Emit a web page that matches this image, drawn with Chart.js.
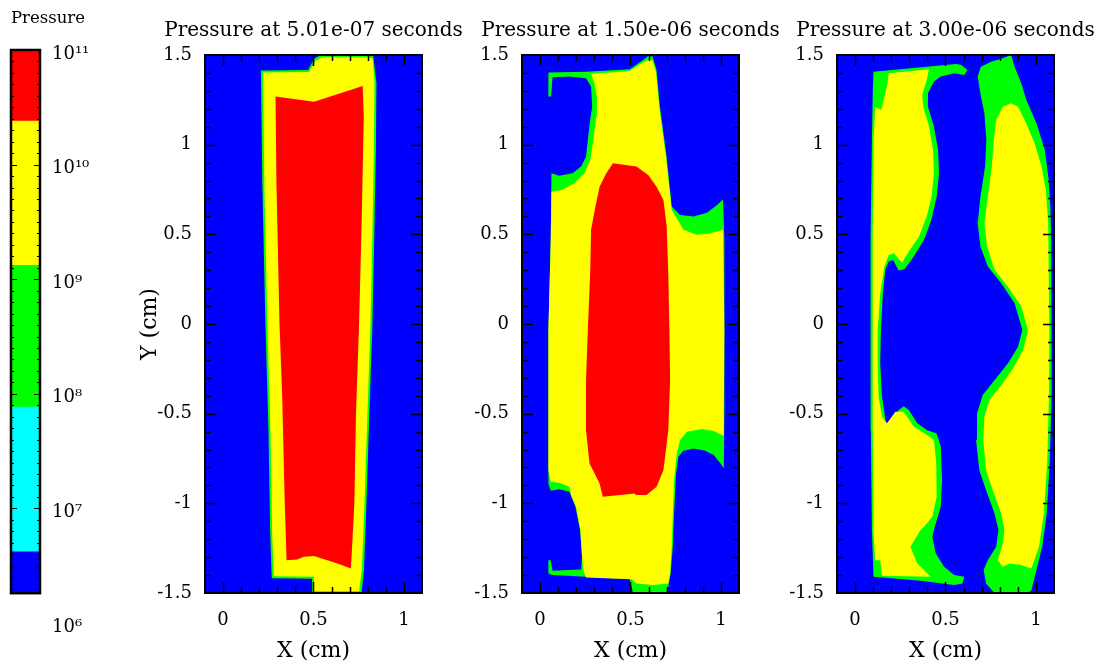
<!DOCTYPE html>
<html><head><meta charset="utf-8">
<script src="https://cdn.jsdelivr.net/npm/chart.js@4/dist/chart.umd.min.js"></script>
<style>
html,body{margin:0;padding:0;background:#fff;overflow:hidden;width:1096px;height:666px;position:relative}
canvas{position:absolute;top:0}
</style></head><body>
<canvas id="cb" width="100" height="666" style="left:0px"></canvas>
<canvas id="p1" width="397" height="666" style="left:115px"></canvas>
<canvas id="p2" width="397" height="666" style="left:432px"></canvas>
<canvas id="p3" width="397" height="666" style="left:747px"></canvas>
<script>
// ---------- data ----------
const TITLES = ['Pressure at 5.01e-07 seconds', 'Pressure at 1.50e-06 seconds', 'Pressure at 3.00e-06 seconds'];
const X_TICKS = [0, 0.5, 1];
const Y_TICKS = [-1.5, -1, -0.5, 0, 0.5, 1, 1.5];
const X_RANGE = [-0.1, 1.1];
const Y_RANGE = [-1.5, 1.5];

// colour bar: band edges as log10(pressure)
const CB_EDGES = [6.26, 6.62, 7.885, 9.12, 10.38, 11];
const CB_COLORS = ['#0000ff', '#00ffff', '#00ff00', '#ffff00', '#ff0000'];
const CB_TICKS = [6, 7, 8, 9, 10, 11];
const CB_LABELS = ['10\u2076', '10\u2077', '10\u2078', '10\u2079', '10\u00b9\u2070', '10\u00b9\u00b9'];

const BLUE = '#0000ff', GREEN = '#00ff00', YELLOW = '#ffff00', RED = '#ff0000';

// contour regions (x cm, y cm)
const P1_GREEN = [[0.209,1.414],[0.470,1.416],[0.505,1.482],[0.545,1.5],[0.83,1.5],[0.848,1.342],[0.845,0.97],[0.836,0.487],[0.826,0],[0.809,-0.5],[0.793,-1.0],[0.779,-1.372],[0.766,-1.5],[0.496,-1.5],[0.492,-1.42],[0.269,-1.418],[0.260,-1.149],[0.251,-0.592],[0.234,0],[0.217,0.785]];
const P1_YELLOW = [[0.221,1.402],[0.475,1.405],[0.512,1.468],[0.549,1.488],[0.80,1.488],[0.828,1.48],[0.837,1.342],[0.834,0.97],[0.825,0.487],[0.815,0],[0.798,-0.5],[0.782,-1.0],[0.767,-1.372],[0.752,-1.49],[0.507,-1.49],[0.503,-1.409],[0.280,-1.406],[0.271,-1.149],[0.262,-0.592],[0.245,0],[0.228,0.785]];
const P1_RED = [[0.290,1.268],[0.503,1.240],[0.772,1.327],[0.778,1.156],[0.767,0.599],[0.752,0],[0.735,-0.499],[0.726,-1.001],[0.707,-1.363],[0.633,-1.335],[0.503,-1.294],[0.447,-1.298],[0.410,-1.313],[0.351,-1.317],[0.340,-0.963],[0.327,-0.406],[0.312,0],[0.295,0.785]];

const P2_GREEN = [[0.046,1.402],[0.254,1.407],[0.496,1.420],[0.570,1.472],[0.598,1.495],[0.622,1.491],[0.644,1.417],[0.663,1.212],[0.700,0.933],[0.728,0.655],[0.774,0.608],[0.849,0.599],[0.923,0.621],[0.979,0.664],[1.012,0.696],[1.019,0.469],[1.019,-0.034],[1.019,-0.499],[1.016,-0.805],[0.997,-0.777],[0.960,-0.731],[0.914,-0.707],[0.849,-0.694],[0.793,-0.707],[0.765,-0.740],[0.752,-0.833],[0.741,-1.056],[0.734,-1.242],[0.722,-1.391],[0.709,-1.465],[0.696,-1.5],[0.514,-1.5],[0.496,-1.424],[0.254,-1.409],[0.069,-1.400],[0.046,-1.391],[0.046,-1.317],[0.059,-1.317],[0.069,-1.376],[0.227,-1.369],[0.232,-1.298],[0.221,-1.149],[0.195,-1.019],[0.162,-0.935],[0.106,-0.922],[0.059,-0.930],[0.046,-0.889],[0.046,-0.034],[0.059,0.469],[0.063,0.841],[0.106,0.826],[0.180,0.841],[0.227,0.878],[0.254,0.933],[0.264,1.026],[0.277,1.138],[0.288,1.212],[0.282,1.324],[0.254,1.370],[0.162,1.380],[0.069,1.376],[0.061,1.268],[0.046,1.268]];
const P2_YELLOW = [[0.282,1.394],[0.496,1.411],[0.561,1.454],[0.598,1.472],[0.622,1.469],[0.641,1.407],[0.659,1.212],[0.696,0.933],[0.728,0.636],[0.793,0.525],[0.867,0.497],[0.941,0.506],[1.012,0.525],[1.019,-0.034],[1.016,-0.499],[1.016,-0.625],[0.960,-0.597],[0.895,-0.586],[0.812,-0.601],[0.774,-0.647],[0.756,-0.722],[0.741,-0.870],[0.734,-1.056],[0.728,-1.242],[0.719,-1.391],[0.709,-1.447],[0.626,-1.456],[0.533,-1.447],[0.505,-1.424],[0.254,-1.413],[0.240,-1.376],[0.232,-1.298],[0.223,-1.149],[0.199,-1.019],[0.171,-0.954],[0.162,-0.908],[0.106,-0.885],[0.059,-0.880],[0.046,-0.815],[0.046,-0.034],[0.059,0.469],[0.063,0.738],[0.124,0.748],[0.189,0.785],[0.245,0.841],[0.277,0.915],[0.295,1.026],[0.310,1.156],[0.314,1.268],[0.301,1.342]];
const P2_RED = [[0.403,0.896],[0.533,0.878],[0.598,0.831],[0.644,0.766],[0.682,0.692],[0.700,0.543],[0.709,0.283],[0.715,-0.034],[0.719,-0.313],[0.709,-0.592],[0.682,-0.815],[0.644,-0.908],[0.589,-0.954],[0.529,-0.954],[0.524,-0.945],[0.347,-0.963],[0.329,-0.889],[0.273,-0.777],[0.254,-0.592],[0.254,-0.313],[0.264,-0.034],[0.277,0.283],[0.282,0.525],[0.306,0.655],[0.329,0.766],[0.366,0.841]];

const P3_GREEN_L = [[0.102,1.407],[0.557,1.450],[0.585,1.445],[0.622,1.417],[0.604,1.389],[0.548,1.398],[0.474,1.380],[0.436,1.352],[0.403,1.287],[0.403,1.212],[0.436,1.101],[0.459,0.971],[0.464,0.841],[0.451,0.710],[0.422,0.580],[0.381,0.469],[0.325,0.376],[0.273,0.305],[0.241,0.298],[0.210,0.357],[0.186,0.348],[0.167,0.302],[0.154,0.171],[0.143,-0.033],[0.139,-0.220],[0.149,-0.406],[0.176,-0.588],[0.199,-0.554],[0.241,-0.480],[0.269,-0.458],[0.297,-0.480],[0.344,-0.554],[0.399,-0.592],[0.451,-0.610],[0.474,-0.685],[0.481,-0.870],[0.474,-1.019],[0.446,-1.112],[0.427,-1.186],[0.446,-1.279],[0.492,-1.354],[0.548,-1.400],[0.604,-1.409],[0.594,-1.447],[0.548,-1.456],[0.362,-1.432],[0.102,-1.409],[0.093,-1.149],[0.087,-0.592],[0.084,-0.034],[0.087,0.469],[0.093,1.026],[0.098,1.305]];
const P3_YELLOW_L = [[0.186,1.398],[0.409,1.420],[0.396,1.361],[0.371,1.277],[0.377,1.212],[0.409,1.101],[0.431,0.971],[0.436,0.841],[0.423,0.710],[0.396,0.599],[0.353,0.487],[0.297,0.404],[0.260,0.342],[0.214,0.394],[0.186,0.385],[0.162,0.320],[0.139,0.171],[0.125,-0.033],[0.125,-0.220],[0.130,-0.406],[0.149,-0.517],[0.176,-0.554],[0.223,-0.489],[0.269,-0.489],[0.325,-0.573],[0.399,-0.619],[0.436,-0.647],[0.449,-0.777],[0.451,-0.963],[0.427,-1.075],[0.381,-1.131],[0.362,-1.149],[0.306,-1.242],[0.344,-1.335],[0.418,-1.409],[0.149,-1.404],[0.139,-1.317],[0.111,-1.317],[0.102,-1.149],[0.098,-0.592],[0.097,-0.034],[0.098,0.469],[0.102,1.026],[0.111,1.212],[0.145,1.194],[0.176,1.324]];
const P3_GREEN_R = [[0.678,1.380],[0.696,1.435],[0.752,1.463],[0.817,1.482],[0.863,1.5],[0.882,1.435],[0.919,1.342],[0.947,1.249],[1.003,1.119],[1.049,0.971],[1.071,0.803],[1.080,0.655],[1.085,0.469],[1.088,-0.033],[1.086,-0.406],[1.076,-0.777],[1.060,-1.056],[1.035,-1.242],[1.003,-1.372],[0.975,-1.484],[0.956,-1.5],[0.771,-1.5],[0.724,-1.447],[0.711,-1.372],[0.734,-1.317],[0.780,-1.242],[0.793,-1.149],[0.771,-1.056],[0.724,-0.926],[0.687,-0.815],[0.669,-0.647],[0.674,-0.499],[0.706,-0.396],[0.771,-0.313],[0.845,-0.220],[0.901,-0.127],[0.925,-0.034],[0.882,0.116],[0.808,0.227],[0.734,0.320],[0.693,0.432],[0.678,0.562],[0.693,0.710],[0.719,0.878],[0.726,1.026],[0.715,1.175],[0.693,1.287]];
const P3_YELLOW_R = [[0.863,1.231],[0.901,1.212],[0.938,1.138],[0.993,1.008],[1.031,0.878],[1.055,0.748],[1.068,0.562],[1.074,-0.033],[1.072,-0.406],[1.062,-0.777],[1.044,-1.056],[1.017,-1.242],[0.975,-1.363],[0.919,-1.344],[0.854,-1.335],[0.817,-1.354],[0.789,-1.317],[0.817,-1.224],[0.826,-1.149],[0.808,-1.056],[0.761,-0.926],[0.724,-0.815],[0.709,-0.647],[0.715,-0.517],[0.743,-0.424],[0.808,-0.341],[0.873,-0.248],[0.929,-0.146],[0.956,-0.034],[0.919,0.097],[0.845,0.208],[0.771,0.302],[0.730,0.432],[0.715,0.562],[0.734,0.710],[0.756,0.878],[0.767,1.026],[0.780,1.138],[0.817,1.212]];

// ---------- rendering ----------
const FONT = "'DejaVu Serif', 'Liberation Serif', serif";

const bgPlugin = {
  id: 'bg',
  beforeDraw(chart) {
    const a = chart.chartArea, ctx = chart.ctx;
    ctx.save(); ctx.fillStyle = BLUE;
    ctx.fillRect(a.left, a.top, a.right - a.left, a.bottom - a.top);
    ctx.restore();
  }
};

const framePlugin = {
  id: 'frame',
  afterDatasetsDraw(chart) {
    const {ctx, chartArea: a} = chart;
    const x = chart.scales.x, y = chart.scales.y;
    ctx.save();
    ctx.strokeStyle = '#000';
    ctx.lineWidth = 1.5;
    ctx.beginPath();
    for (let i = 0; i <= 10; i++) {
      const v = i / 10, p = Math.round(x.getPixelForValue(v)) + 0.5;
      const L = X_TICKS.includes(v) ? 11 : 6;
      ctx.moveTo(p, a.bottom); ctx.lineTo(p, a.bottom - L);
      ctx.moveTo(p, a.top); ctx.lineTo(p, a.top + L);
    }
    for (let i = -14; i <= 14; i++) {
      const v = i / 10, p = Math.round(y.getPixelForValue(v)) + 0.5;
      const L = (i % 5 === 0) ? 11 : 6;
      ctx.moveTo(a.left, p); ctx.lineTo(a.left + L, p);
      ctx.moveTo(a.right, p); ctx.lineTo(a.right - L, p);
    }
    ctx.stroke();
    ctx.lineWidth = 2;
    ctx.strokeRect(a.left, a.top, a.right - a.left, a.bottom - a.top);
    ctx.restore();
  }
};

function fmt(v) { return String(v); }

function makePanel(id, title, layers, showYTitle) {
  const datasets = layers.map(l => ({
    data: l.pts.map(p => ({x: p[0], y: p[1]})),
    backgroundColor: l.color,
    borderWidth: 0,
    pointRadius: 0,
    tension: 0,
    fill: 'shape',
    order: l.order
  }));
  new Chart(document.getElementById(id), {
    type: 'line',
    data: {datasets},
    options: {
      responsive: false, animation: false, events: [],
      layout: {padding: 0},
      plugins: {
        legend: {display: false}, tooltip: {enabled: false},
        title: {display: true, text: title, color: '#000', font: {family: FONT, size: 20, weight: 'normal'}, padding: {top: 19, bottom: 12}}
      },
      scales: {
        x: {
          type: 'linear', position: 'bottom', min: X_RANGE[0], max: X_RANGE[1],
          grid: {display: false, drawTicks: false}, border: {display: false},
          afterBuildTicks: s => { s.ticks = X_TICKS.map(v => ({value: v})); },
          afterFit: s => { s.height = 73; },
          ticks: {padding: 17, maxRotation: 0, autoSkip: false, color: '#000', font: {family: FONT, size: 18}, callback: v => fmt(v)},
          title: {display: true, text: 'X (cm)', color: '#000', font: {family: FONT, size: 22}, padding: {top: 0, bottom: 2}}
        },
        y: {
          type: 'linear', position: 'left', min: Y_RANGE[0], max: Y_RANGE[1],
          grid: {display: false, drawTicks: false}, border: {display: false},
          afterBuildTicks: s => { s.ticks = Y_TICKS.map(v => ({value: v})); },
          afterFit: s => { s.width = 90; },
          ticks: {padding: 13, autoSkip: false, color: '#000', font: {family: FONT, size: 18}, callback: v => fmt(v)},
          title: {display: showYTitle, text: 'Y (cm)', color: '#000', font: {family: FONT, size: 22}, padding: {top: 22, bottom: 0}}
        },
        yRight: {
          type: 'linear', position: 'right', min: Y_RANGE[0], max: Y_RANGE[1],
          grid: {display: false, drawTicks: false}, border: {display: false},
          ticks: {display: false},
          afterFit: s => { s.width = 90; }
        }
      }
    },
    plugins: [bgPlugin, framePlugin]
  });
}

makePanel('p1', TITLES[0], [
  {pts: P1_GREEN, color: GREEN, order: 3},
  {pts: P1_YELLOW, color: YELLOW, order: 2},
  {pts: P1_RED, color: RED, order: 1}
], true);
makePanel('p2', TITLES[1], [
  {pts: P2_GREEN, color: GREEN, order: 3},
  {pts: P2_YELLOW, color: YELLOW, order: 2},
  {pts: P2_RED, color: RED, order: 1}
], false);
makePanel('p3', TITLES[2], [
  {pts: P3_GREEN_L, color: GREEN, order: 3},
  {pts: P3_GREEN_R, color: GREEN, order: 3},
  {pts: P3_YELLOW_L, color: YELLOW, order: 2},
  {pts: P3_YELLOW_R, color: YELLOW, order: 2}
], false);

// colour bar
const cbFrame = {
  id: 'cbFrame',
  afterDatasetsDraw(chart) {
    const {ctx, chartArea: a} = chart;
    const y = chart.scales.y;
    const top = y.getPixelForValue(CB_EDGES[CB_EDGES.length - 1]);
    const bot = y.getPixelForValue(CB_EDGES[0]);
    ctx.save();
    ctx.strokeStyle = '#000';
    ctx.lineWidth = 1.2;
    ctx.beginPath();
    for (let i = 63; i < 110; i++) {
      const v = i / 10;
      const p = Math.round(y.getPixelForValue(v)) + 0.5;
      const L = (i % 10 === 0) ? 6 : 3;
      ctx.moveTo(a.left, p); ctx.lineTo(a.left + L, p);
      ctx.moveTo(a.right, p); ctx.lineTo(a.right - L, p);
    }
    ctx.stroke();
    ctx.lineWidth = 2.5;
    ctx.strokeRect(a.left, top, a.right - a.left, bot - top);
    ctx.restore();
  }
};

new Chart(document.getElementById('cb'), {
  type: 'bar',
  data: {
    labels: [''],
    datasets: CB_COLORS.map((c, i) => ({
      data: [[CB_EDGES[i], CB_EDGES[i + 1]]],
      backgroundColor: c, borderWidth: 0,
      barPercentage: 1, categoryPercentage: 1, grouped: false
    }))
  },
  options: {
    responsive: false, animation: false, events: [],
    layout: {padding: {left: 11, right: 0, top: 0, bottom: 43}},
    plugins: {
      legend: {display: false}, tooltip: {enabled: false},
      title: {display: true, text: 'Pressure', align: 'start', color: '#000', font: {family: FONT, size: 16.5, weight: 'normal'}, padding: {top: 9, bottom: 21.2}}
    },
    scales: {
      x: {display: false},
      y: {
        position: 'right', min: 6, max: 11,
        grid: {display: false, drawTicks: false}, border: {display: false},
        afterBuildTicks: s => { s.ticks = CB_TICKS.map(v => ({value: v})); },
        afterFit: s => { s.width = 60; },
        ticks: {padding: 12, labelOffset: 4, autoSkip: false, color: '#000', font: {family: FONT, size: 18}, callback: v => CB_LABELS[CB_TICKS.indexOf(v)]}
      }
    }
  },
  plugins: [cbFrame]
});
</script>
</body></html>
